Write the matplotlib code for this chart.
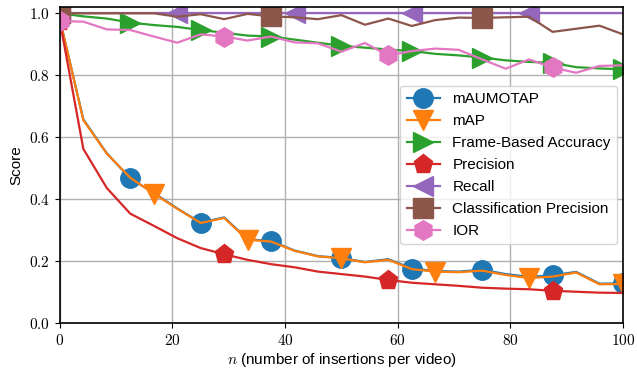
import numpy as np
import matplotlib
matplotlib.use('Agg')
import matplotlib.pyplot as plt
from matplotlib.ticker import FuncFormatter

plt.rcParams['font.family'] = ['Liberation Sans', 'DejaVu Sans']
plt.rcParams['mathtext.fontset'] = 'cm'

# number of insertions per video
n = [0, 4.17, 8.33, 12.5, 16.67, 20.83, 25, 29.17, 33.33, 37.5, 41.67, 45.83,
     50, 54.17, 58.33, 62.5, 66.67, 70.83, 75, 79.17, 83.33, 87.5, 91.67, 95.83, 100]

maumotap = [0.98, 0.657, 0.548, 0.467, 0.420, 0.370, 0.324, 0.341, 0.270, 0.265,
            0.234, 0.216, 0.210, 0.197, 0.206, 0.176, 0.168, 0.166, 0.172, 0.158,
            0.149, 0.154, 0.165, 0.127, 0.128]
m_ap = [0.98, 0.655, 0.547, 0.469, 0.418, 0.369, 0.323, 0.339, 0.269, 0.263,
        0.233, 0.215, 0.209, 0.196, 0.204, 0.174, 0.166, 0.164, 0.169, 0.155,
        0.145, 0.150, 0.163, 0.125, 0.126]
frame_acc = [1.0, 0.99, 0.983, 0.97, 0.962, 0.956, 0.946, 0.937, 0.928, 0.925,
             0.915, 0.905, 0.895, 0.889, 0.883, 0.878, 0.869, 0.864, 0.857, 0.848,
             0.843, 0.840, 0.826, 0.822, 0.819]
precision = [0.975, 0.562, 0.436, 0.353, 0.314, 0.274, 0.242, 0.222, 0.204, 0.190,
             0.180, 0.166, 0.158, 0.150, 0.139, 0.130, 0.125, 0.120, 0.114, 0.111,
             0.109, 0.104, 0.101, 0.098, 0.097]
recall = [1.0] * 25
class_prec = [1.0, 1.0, 1.0, 1.0, 1.0, 0.989, 0.997, 0.981, 0.998, 0.99,
              0.987, 0.981, 0.994, 0.963, 0.983, 0.959, 0.978, 0.986, 0.985, 0.987,
              0.989, 0.940, 0.950, 0.960, 0.932]
ior = [0.975, 0.973, 0.948, 0.946, 0.925, 0.905, 0.932, 0.925, 0.912, 0.925,
       0.906, 0.903, 0.876, 0.904, 0.864, 0.878, 0.886, 0.882, 0.851, 0.821,
       0.851, 0.825, 0.808, 0.830, 0.832]

series = [
    ('mAUMOTAP', maumotap, 'o', 3),
    ('mAP', m_ap, 'v', 4),
    ('Frame-Based Accuracy', frame_acc, '>', 3),
    ('Precision', precision, 'p', 7),
    ('Recall', recall, '<', 5),
    ('Classification Precision', class_prec, 's', 9),
    ('IOR', ior, 'h', 7),
]

fig = plt.figure(figsize=(6.37, 3.73), dpi=100)
ax = fig.add_axes([0.094, 0.134, 0.884, 0.847])
for label, vals, mk, every in series:
    ax.plot(n, vals, marker=mk, markevery=every, markersize=14, linewidth=1.6,
            label=label)

ax.set_xlim(0, 100)
ax.set_ylim(0, 1.02)
ax.set_xticks([0, 20, 40, 60, 80, 100])
ax.set_yticks([0.0, 0.2, 0.4, 0.6, 0.8, 1.0])
ax.xaxis.set_major_formatter(FuncFormatter(lambda v, p: '$%d$' % v))
ax.yaxis.set_major_formatter(FuncFormatter(lambda v, p: '$%.1f$' % v))
ax.tick_params(labelsize=11)
ax.grid(True, color='#b0b0b0', linewidth=1)
ax.set_axisbelow(True)
for s in ax.spines.values():
    s.set_linewidth(1.2)
ax.set_xlabel('$n$ (number of insertions per video)', fontsize=11, labelpad=2)
ax.set_ylabel('Score', fontsize=11)
ax.legend(loc='center right', fontsize=11, borderaxespad=0.4, labelspacing=0.52,
          handlelength=2.2)

fig.savefig('out.png', dpi=100)
